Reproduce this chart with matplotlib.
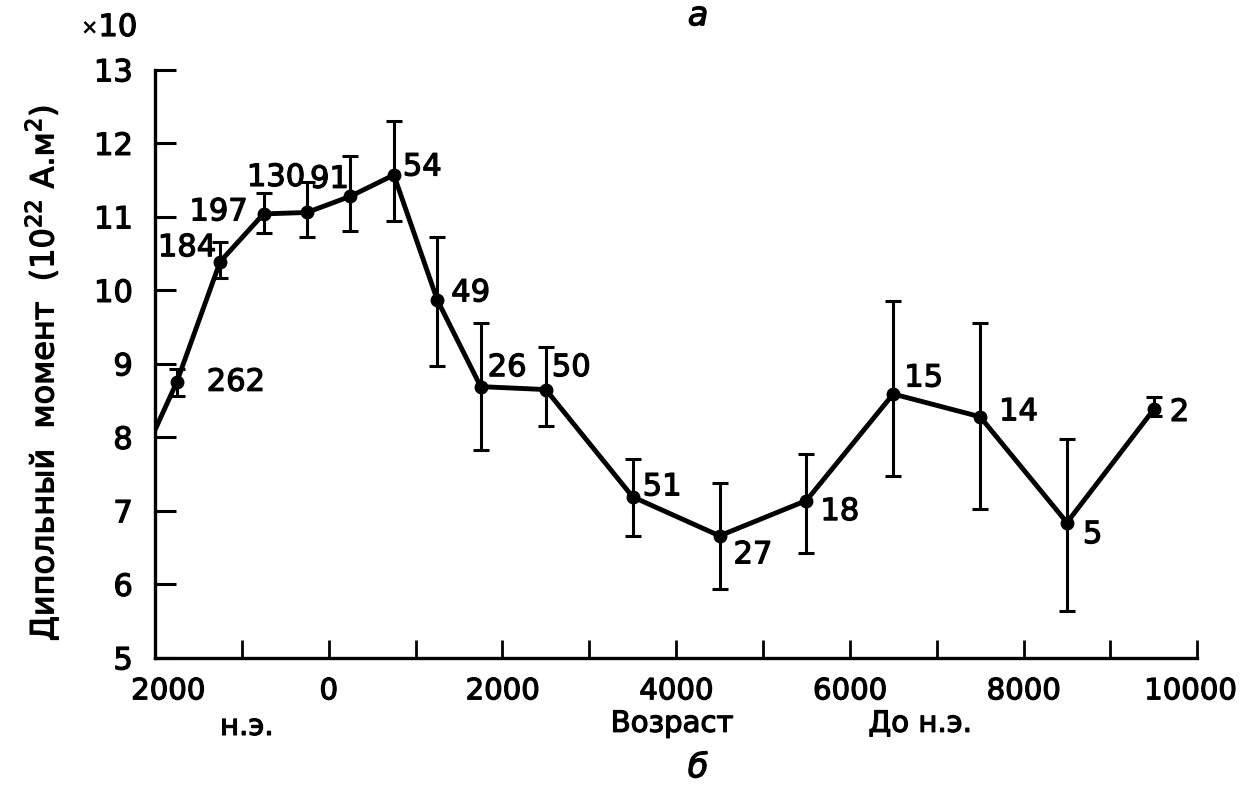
import matplotlib
matplotlib.use("Agg")
import matplotlib.pyplot as plt
import matplotlib.transforms as mtransforms
import matplotlib.patheffects as pe
import numpy as np

# age in years BC (negative = AD), dipole moment in 10^22 A*m^2
age = [-2000, -1750, -1250, -750, -250, 250, 750, 1250, 1750,
       2500, 3500, 4500, 5500, 6500, 7500, 8500, 9500]
dipole = [8.1, 8.75, 10.39, 11.04, 11.06, 11.28, 11.57, 9.87, 8.69,
          8.65, 7.19, 6.66, 7.14, 8.59, 8.28, 6.84, 8.38]
# error bar ends (the first point, present day, has none)
upper = [8.93, 10.66, 11.32, 11.47, 11.83, 12.30, 10.72, 9.56,
         9.23, 7.70, 7.38, 7.78, 9.85, 9.55, 7.98, 8.55]
lower = [8.56, 10.17, 10.78, 10.72, 10.81, 10.94, 8.97, 7.83,
         8.16, 6.66, 5.93, 6.43, 7.47, 7.02, 5.64, 8.29]
n_samples = [262, 184, 197, 130, 91, 54, 49, 26, 50, 51, 27, 18, 15, 14, 5, 2]

x_ticks = [-2000, 0, 2000, 4000, 6000, 8000, 10000]
x_ticklabels = ['2000', '0', '2000', '4000', '6000', '8000', '10000']
y_ticks = [5, 6, 7, 8, 9, 10, 11, 12, 13]

# label placement (pixels from the point) and alignment
label_offsets = [(30, 0, 'left'), (-4, 14, 'right'), (-16, 2, 'right'),
                 (-31, 35, 'center'), (-21, 17, 'center'), (9, 8, 'left'),
                 (14, 7, 'left'), (7, 19, 'left'), (6, 22, 'left'),
                 (10, 10, 'left'), (14, -19, 'left'), (14, -11, 'left'),
                 (11, 16, 'left'), (19, 5, 'left'), (16, -12, 'left'),
                 (16, -3, 'left')]

plt.rcParams['font.family'] = ['DejaVu Sans']
FS = 21
bold = [pe.withStroke(linewidth=0.9, foreground='black')]

fig = plt.figure(figsize=(12.4, 7.85), dpi=100)
ax = fig.add_axes([0.125, 0.162, 0.8405, 0.749])

ax.plot(age, dipole, color='black', lw=3.5, solid_joinstyle='round', zorder=3)
ax.plot(age[1:], dipole[1:], 'o', color='black', ms=9, zorder=4)

pts = np.array(dipole[1:])
yerr = [pts - np.array(lower), np.array(upper) - pts]
ax.errorbar(age[1:], pts, yerr=yerr, fmt='none', ecolor='black',
            elinewidth=2.2, capsize=6, capthick=2.2, zorder=2)

for x, y, n, (dx, dy, ha) in zip(age[1:], dipole[1:], n_samples, label_offsets):
    ax.annotate(str(n), (x, y), xytext=(dx, dy), textcoords='offset pixels',
                ha=ha, va='center', fontsize=FS + 1, path_effects=bold)

ax.set_xlim(-2000, 10000)
ax.set_ylim(5, 13)
ax.set_xticks(x_ticks)
ax.set_xticklabels(x_ticklabels)
ax.set_xticks(np.arange(-1000, 10000, 2000), minor=True)
ax.set_yticks(y_ticks)

for s in ['top', 'right']:
    ax.spines[s].set_visible(False)
for s in ['left', 'bottom']:
    ax.spines[s].set_linewidth(2.4)

ax.tick_params(axis='y', direction='in', length=15, width=2.2,
               labelsize=FS + 1, pad=16)
ax.tick_params(axis='x', which='both', direction='in', length=13, width=2.0,
               labelsize=FS, pad=14)

for lab in ax.get_xticklabels() + ax.get_yticklabels():
    lab.set_path_effects(bold)
# nudge first and last x labels like the original
xl = ax.get_xticklabels()
xl[0].set_transform(xl[0].get_transform() + mtransforms.ScaledTranslation(0.13, 0, fig.dpi_scale_trans))
xl[-1].set_transform(xl[-1].get_transform() + mtransforms.ScaledTranslation(-0.07, 0, fig.dpi_scale_trans))

ax.set_ylabel('Дипольный  момент  (10$^{22}$ А.м$^{2}$)', fontsize=23,
              labelpad=12, path_effects=bold)
ax.yaxis.set_label_coords(-0.09, 0.485)

fig.text(0.199, 0.074, 'н.э.', fontsize=FS, ha='center', va='center', path_effects=bold)
fig.text(0.542, 0.078, 'Возраст', fontsize=FS, ha='center', va='center', path_effects=bold)
fig.text(0.742, 0.078, 'До н.э.', fontsize=FS, ha='center', va='center', path_effects=bold)
fig.text(0.563, 0.022, 'б', fontsize=24, style='italic', ha='center', va='center', path_effects=bold)
fig.text(0.563, 0.98, 'а', fontsize=24, style='italic', ha='center', va='center', path_effects=bold)
fig.text(0.072, 0.965, '×', fontsize=15, fontweight='bold', ha='center', va='center')
fig.text(0.095, 0.965, '10', fontsize=FS + 1, ha='center', va='center', path_effects=bold)

fig.savefig('out.png', dpi=100)
